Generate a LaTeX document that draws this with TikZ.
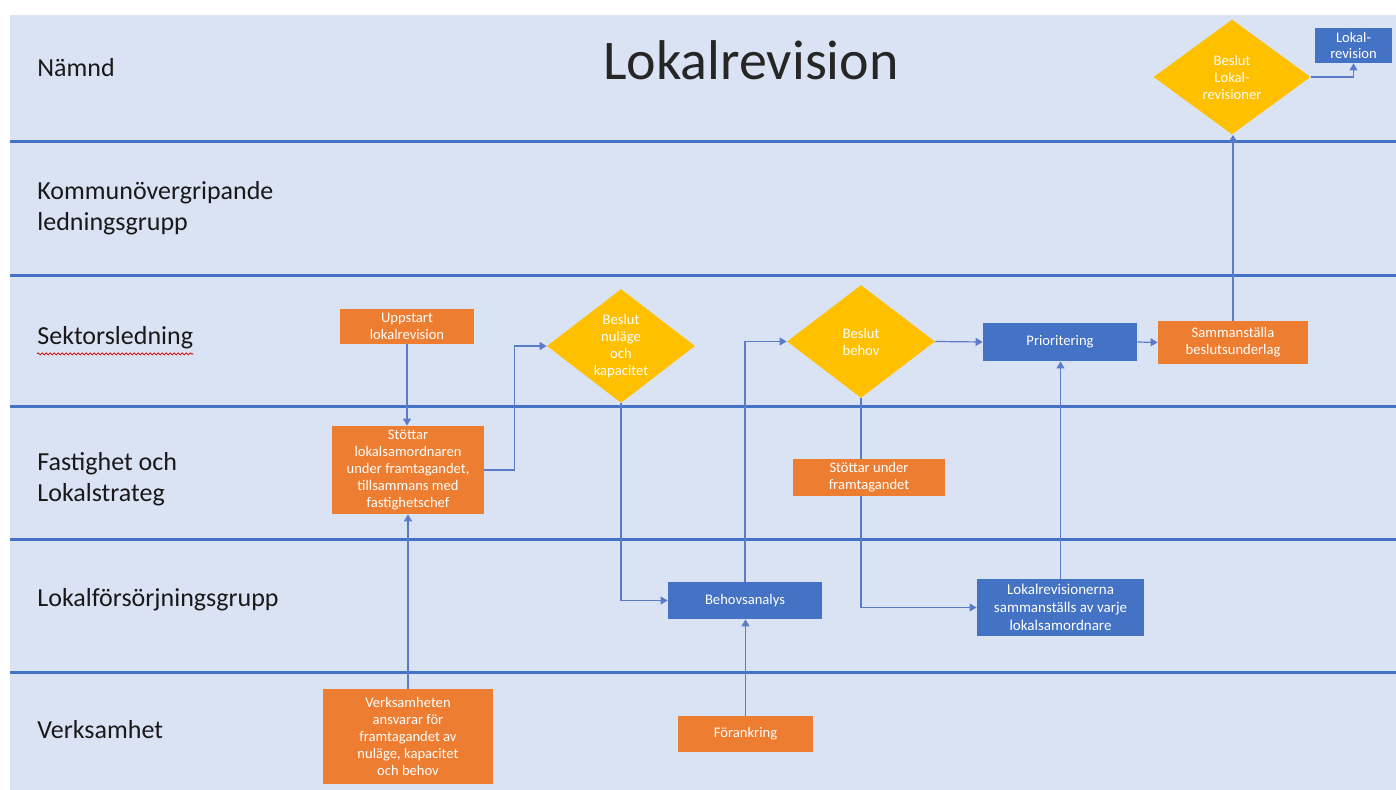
\documentclass[tikz,border=0pt]{standalone}
\usepackage{fontspec}
\setmainfont{Carlito}
\usetikzlibrary{arrows.meta,shapes.geometric,decorations.pathmorphing}
\definecolor{laneblue}{HTML}{4472C4}
\definecolor{paper}{HTML}{DAE3F3}
\definecolor{taskorange}{HTML}{ED7D31}
\definecolor{taskblue}{HTML}{4472C4}
\definecolor{gold}{HTML}{FFC000}
\definecolor{wirecol}{HTML}{5A7CC8}
\pgfdeclarelayer{back}
\pgfdeclarelayer{wires}
\pgfsetlayers{back,wires,main}
\tikzset{
  taskbox/.style={rectangle, inner sep=1pt, text=white, align=center,
    font=\fontsize{7.3}{8.4}\selectfont},
  obox/.style={taskbox, fill=taskorange},
  bbox/.style={taskbox, fill=taskblue},
  decision/.style={diamond, fill=gold, inner sep=0pt},
  dtext/.style={text=white, align=center, inner sep=0pt,
    font=\fontsize{7.3}{8.5}\selectfont},
  laneline/.style={draw=laneblue, line width=1.5pt},
  lanelabel/.style={anchor=base west, align=left, inner sep=0pt,
    font=\fontsize{13}{15.5}\selectfont, text=black!90},
  wire/.style={draw=wirecol, line width=0.6pt,
    -{Triangle[width=4pt,length=3.5pt]}},
}
\begin{document}
\begin{tikzpicture}[x=0.5pt, y=-0.5pt]
\useasboundingbox (0,0) rectangle (1396,790);

% swimlane background and separators
\begin{pgfonlayer}{back}
  \fill[white] (0,0) rectangle (1396,790);
  \fill[paper] (10,15) rectangle (1396,790);
  \foreach \yy in {142,276,407,539,672}
    \draw[laneline] (10,\yy) -- (1396,\yy);
\end{pgfonlayer}

% title
\node[anchor=base, inner sep=0pt, font=\fontsize{28}{30}\selectfont, text=black!85]
  (title) at (751,80) {Lokalrevision};

% lane labels (base anchor = baseline of the last line)
\node[lanelabel] (l1) at (37,77) {Nämnd};
\node[lanelabel] (l2) at (37,231) {Kommunövergripande\\ledningsgrupp};
\node[lanelabel] (l3) at (37,345) {Sektorsledning};
\node[lanelabel] (l4) at (37,502) {Fastighet och\\Lokalstrateg};
\node[lanelabel] (l5) at (37,606) {Lokalförsörjningsgrupp};
\node[lanelabel] (l6) at (37,738) {Verksamhet};
\draw[red!85!black, line width=0.4pt,
      decorate, decoration={snake, amplitude=0.5pt, segment length=2pt}]
  (l3.south west) ++(0,4) coordinate (sq) -- (sq -| l3.south east);

% process steps
\node[obox, minimum width=67pt, minimum height=17.5pt] (upp) at (407,326.5)
  {Uppstart\\lokalrevision};
\node[obox, minimum width=76pt, minimum height=44pt] (stod) at (408,470)
  {Stöttar\\lokalsamordnaren\\under framtagandet,\\tillsammans med\\fastighetschef};
\node[obox, minimum width=85pt, minimum height=47.5pt] (verk) at (408,736.5)
  {Verksamheten\\ansvarar för\\framtagandet av\\nuläge, kapacitet\\och behov};
\node[decision, minimum width=74pt, minimum height=57pt] (d1) at (621,346) {};
\node[dtext] at (d1) {Beslut\\nuläge\\och\\kapacitet};
\node[bbox, minimum width=77pt, minimum height=18.5pt] (beh) at (745,600.5)
  {Behovsanalys};
\node[obox, minimum width=67.5pt, minimum height=18pt] (fork) at (745.5,734)
  {Förankring};
\node[decision, minimum width=74pt, minimum height=56.5pt] (d2) at (861,341.5) {};
\node[dtext] at (d2) {Beslut\\behov};
\node[obox, minimum width=76pt, minimum height=18.5pt] (stund) at (869,477.5)
  {Stöttar under\\framtagandet};
\node[bbox, minimum width=77pt, minimum height=19pt] (prio) at (1060,342)
  {Prioritering};
\node[bbox, minimum width=83.5pt, minimum height=28.5pt,
      font=\fontsize{7.5}{9}\selectfont] (lrs) at (1060.5,607.5)
  {Lokalrevisionerna\\sammanställs av varje\\lokalsamordnare};
\node[obox, minimum width=75pt, minimum height=21.5pt] (samm) at (1233,342.5)
  {Sammanställa\\beslutsunderlag};
\node[decision, minimum width=78.5pt, minimum height=57.5pt] (d3) at (1232,77) {};
\node[dtext] at (d3) {Beslut\\Lokal-\\revisioner};
\node[bbox, minimum width=38.5pt, minimum height=17.5pt] (lokb) at (1353.5,45.5)
  {Lokal-\\revision};

% connectors
\begin{pgfonlayer}{wires}
  \draw[wire] (upp.south) -- (upp.south |- stod.north);
  \draw[wire] (verk.north) -- (verk.north |- stod.south);
  \draw[wire] (stod.east) -- ++(30,0) |- (d1.west);
  \draw[wire] (d1.south) |- (beh.west);
  \draw[wire] (fork.north) -- (fork.north |- beh.south);
  \draw[wire] (beh.north) |- (d2.west);
  \draw[wire] (d2.east) -- (prio.west);
  \draw[wire] (d2.south) |- (lrs.west);
  \draw[wire] (lrs.north) -- (lrs.north |- prio.south);
  \draw[wire] (prio.east) -- (samm.west);
  \draw[wire] (samm.north) -- (samm.north |- d3.south);
  \draw[wire] (d3.east) -| (lokb.south);
\end{pgfonlayer}
\end{tikzpicture}
\end{document}
